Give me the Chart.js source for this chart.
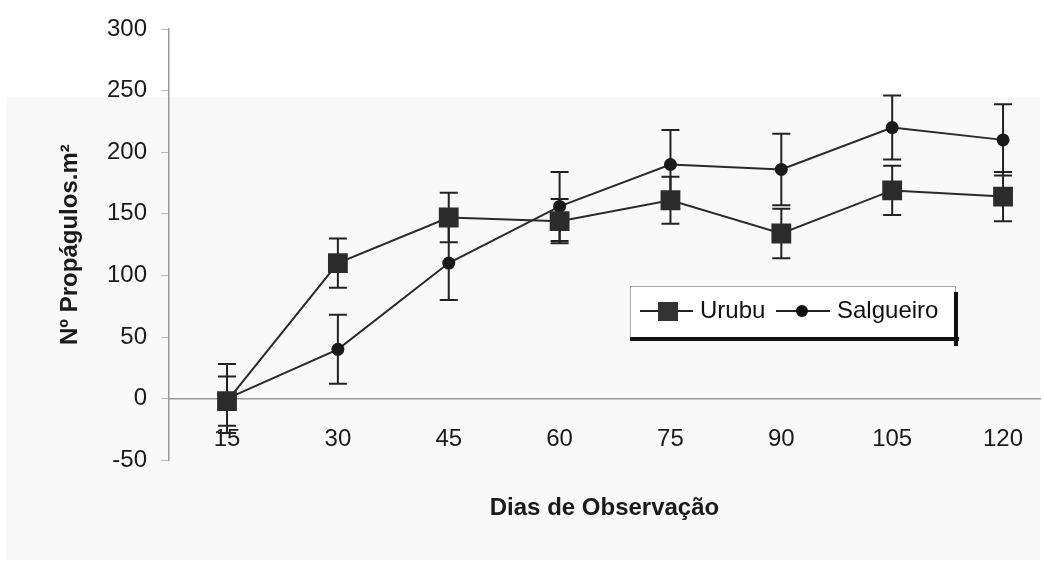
<!DOCTYPE html>
<html>
<head>
<meta charset="utf-8">
<script src="https://cdn.jsdelivr.net/npm/chart.js@4"></script>
<style>
  html, body { margin: 0; padding: 0; background: #fff; }
  #wrap { width: 1044px; height: 569px; }
</style>
</head>
<body>
<div id="wrap"><canvas id="grafico" width="1044" height="569"></canvas></div>
<script>
const dias = [15, 30, 45, 60, 75, 90, 105, 120];
const urubu = [-2, 110, 147, 144, 161, 134, 169, 164];
const urubuErro = [20, 20, 20, 18, 19, 20, 20, 20];
const salgueiro = [0, 40, 110, 156, 190, 186, 220, 210];
const salgueiroErro = [28, 28, 30, 28, 28, 29, 26, 29];
const yTicks = [-50, 0, 50, 100, 150, 200, 250, 300];

const fonte = "'Liberation Sans', Arial, sans-serif";

// barras de erro desenhadas antes dos pontos
const barrasErro = {
  id: 'barrasErro',
  beforeDatasetsDraw(chart) {
    const ctx = chart.ctx;
    const y = chart.scales.y;
    const erros = [urubuErro, salgueiroErro];
    ctx.save();
    ctx.strokeStyle = '#222';
    ctx.lineWidth = 2;
    chart.data.datasets.forEach((ds, i) => {
      const meta = chart.getDatasetMeta(i);
      meta.data.forEach((pt, j) => {
        const v = ds.data[j].y;
        const e = erros[i][j];
        const yTop = y.getPixelForValue(v + e);
        const yBot = y.getPixelForValue(v - e);
        ctx.beginPath();
        ctx.moveTo(pt.x, yTop);
        ctx.lineTo(pt.x, yBot);
        ctx.moveTo(pt.x - 9, yTop);
        ctx.lineTo(pt.x + 9, yTop);
        ctx.moveTo(pt.x - 9, yBot);
        ctx.lineTo(pt.x + 9, yBot);
        ctx.stroke();
      });
    });
    ctx.restore();
  }
};

// fundo levemente acinzentado como no original
const fundo = {
  id: 'fundo',
  beforeDraw(chart) {
    const ctx = chart.ctx;
    ctx.save();
    ctx.fillStyle = '#fff';
    ctx.fillRect(0, 0, chart.width, chart.height);
    ctx.fillStyle = '#f9f9f9';
    ctx.fillRect(6, 97, chart.width - 10, chart.height - 106);
    ctx.restore();
  }
};

// legenda com caixa e sombra, dentro da area do grafico
const legenda = {
  id: 'legenda',
  afterDraw(chart) {
    const ctx = chart.ctx;
    const a = chart.chartArea;
    const bx = a.right - 410, by = a.top + 257, bw = 325, bh = 52;
    const cy = by + bh / 2 - 1;
    ctx.save();
    ctx.fillStyle = '#fff';
    ctx.fillRect(bx, by, bw, bh);
    ctx.strokeStyle = '#aaa';
    ctx.lineWidth = 1;
    ctx.strokeRect(bx + 0.5, by + 0.5, bw, bh);
    ctx.fillStyle = '#111';
    ctx.fillRect(bx, by + bh - 1, bw + 4, 4);
    ctx.fillRect(bx + bw - 1, by + 6, 4, bh + 2);

    ctx.strokeStyle = '#222';
    ctx.lineWidth = 2;
    ctx.beginPath();
    ctx.moveTo(bx + 10, cy); ctx.lineTo(bx + 63, cy);
    ctx.moveTo(bx + 146, cy); ctx.lineTo(bx + 200, cy);
    ctx.stroke();
    ctx.fillStyle = '#333';
    ctx.fillRect(bx + 28, cy - 9, 20, 19);
    ctx.fillStyle = '#111';
    ctx.beginPath();
    ctx.arc(bx + 172, cy, 6, 0, Math.PI * 2);
    ctx.fill();

    ctx.font = '24px ' + fonte;
    ctx.textBaseline = 'middle';
    ctx.fillStyle = '#111';
    ctx.fillText(chart.data.datasets[0].label, bx + 70, cy);
    ctx.fillText(chart.data.datasets[1].label, bx + 207, cy);
    ctx.restore();
  }
};

new Chart(document.getElementById('grafico'), {
  type: 'line',
  data: {
    datasets: [{
      label: 'Urubu',
      data: dias.map((d, i) => ({ x: d, y: urubu[i] })),
      borderColor: '#2a2a2a',
      borderWidth: 2,
      pointStyle: 'rect',
      pointRadius: 14,
      pointBackgroundColor: '#2b2b2b',
      pointBorderColor: '#2b2b2b',
      pointBorderWidth: 0,
      tension: 0
    }, {
      label: 'Salgueiro',
      data: dias.map((d, i) => ({ x: d, y: salgueiro[i] })),
      borderColor: '#2a2a2a',
      borderWidth: 2,
      pointStyle: 'circle',
      pointRadius: 6.5,
      pointBackgroundColor: '#1a1a1a',
      pointBorderColor: '#1a1a1a',
      pointBorderWidth: 0,
      tension: 0
    }]
  },
  options: {
    responsive: false,
    animation: false,
    layout: { autoPadding: false, padding: { top: 29, right: 4, left: 0, bottom: 0 } },
    plugins: {
      legend: { display: false },
      tooltip: { enabled: false },
      title: {
        display: true,
        position: 'bottom',
        fullSize: false,
        text: 'Dias de Observação',
        color: '#1a1a1a',
        font: { family: fonte, size: 24, weight: 'bold' },
        padding: { top: 34, bottom: 46 }
      }
    },
    scales: {
      x: {
        type: 'linear',
        position: { y: 0 },
        min: 7.15,
        max: 125,
        afterBuildTicks(scale) {
          scale.ticks = dias.map(v => ({ value: v }));
        },
        afterFit(scale) {
          scale.paddingLeft = 0;
          scale.paddingRight = 0;
        },
        grid: { drawOnChartArea: false, drawTicks: false },
        border: { color: '#999', width: 1.5 },
        ticks: {
          color: '#1a1a1a',
          padding: 26,
          maxRotation: 0,
          font: { family: fonte, size: 24 }
        }
      },
      y: {
        min: -50,
        max: 300,
        afterBuildTicks(scale) {
          scale.ticks = yTicks.map(v => ({ value: v }));
        },
        afterFit(scale) { scale.width = 169; },
        grid: { drawOnChartArea: false, tickLength: 8, color: '#bbb' },
        border: { color: '#999', width: 1.5 },
        ticks: {
          color: '#1a1a1a',
          padding: 14,
          font: { family: fonte, size: 24 }
        },
        title: {
          display: true,
          text: 'Nº Propágulos.m²',
          color: '#1a1a1a',
          font: { family: fonte, size: 24, weight: 'bold' },
          padding: { top: 56, bottom: 0 }
        }
      }
    }
  },
  plugins: [fundo, barrasErro, legenda]
});
</script>
</body>
</html>
